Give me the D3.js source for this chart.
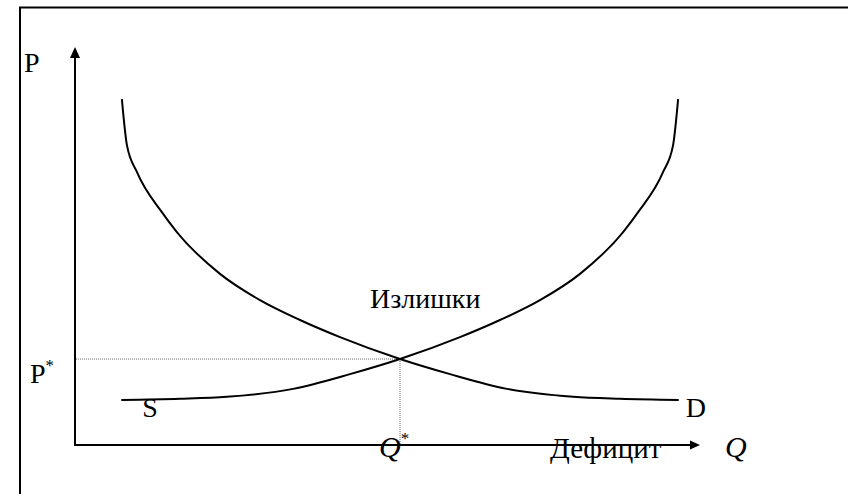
<!DOCTYPE html>
<html>
<head>
<meta charset="utf-8">
<script src="https://cdn.jsdelivr.net/npm/d3@7"></script>
<style>
  html, body { margin:0; padding:0; background:#fff; }
  svg { display:block; }
  text { font-family:'Liberation Serif','Times New Roman',serif; fill:#000; }
</style>
</head>
<body>
<svg id="chart" width="848" height="494"></svg>
<script>
/* ---------- data (Q, P in axis units 0..100) ---------- */
const supplyQ = [7.4, 16.8, 24.3, 34.9, 44.0, 52.0, 61.6, 68.0, 74.4, 80.8, 87.7, 90.1, 94.1, 95.7, 96.5];
const supplyP = [11.3, 11.6, 12.1, 14.1, 17.8, 21.6, 27.1, 31.4, 36.4, 43.0, 53.5, 58.5, 68.6, 75.4, 86.9];
const demandQ = [7.5, 8.3, 9.9, 13.9, 16.3, 23.2, 29.6, 36.0, 42.4, 52.0, 60.0, 69.1, 79.7, 87.2, 96.6];
const demandP = [86.9, 75.4, 68.6, 58.5, 53.5, 43.0, 36.4, 31.4, 27.1, 21.6, 17.8, 14.1, 12.1, 11.6, 11.3];
const equilibrium = { q:52.0, p:21.6 };
const curveLabels = ['S', 'D'];
const axisLabels = { p:'P', q:'Q', pStar:'P', qStar:'Q', star:'*' };
const zoneLabels = { surplus:'Излишки', deficit:'Дефицит' };

/* ---------- layout ---------- */
const svg = d3.select('#chart');
const x = d3.scaleLinear().domain([0,100]).range([75,700]);
const y = d3.scaleLinear().domain([0,100]).range([445,47]);

// frame (left + top edges only)
svg.append('path').attr('d','M20,494 L20,7.5 L848,7.5')
  .attr('fill','none').attr('stroke','#000').attr('stroke-width',2);

// axes
const x0 = x(0), y0 = y(0), xEnd = x(100), yEnd = y(100);
svg.append('line').attr('x1',x0).attr('y1',y0).attr('x2',xEnd-8).attr('y2',y0)
  .attr('stroke','#000').attr('stroke-width',2);
svg.append('line').attr('x1',x0).attr('y1',y0+1).attr('x2',x0).attr('y2',yEnd+8)
  .attr('stroke','#000').attr('stroke-width',2);
svg.append('path').attr('d',`M${xEnd},${y0} L${xEnd-10},${y0-4.5} L${xEnd-10},${y0+4.5}Z`).attr('fill','#000');
svg.append('path').attr('d',`M${x0},${yEnd} L${x0-5},${yEnd+11} L${x0+5},${yEnd+11}Z`).attr('fill','#000');

// dotted guides to equilibrium
const ex = x(equilibrium.q), ey = y(equilibrium.p);
svg.append('path').attr('d',`M${x0+1},${ey} H${ex} V${y0-1}`)
  .attr('fill','none').attr('stroke','#666').attr('stroke-width',1).attr('stroke-dasharray','1,1');

// curves
const line = d3.line().x(d => x(d[0])).y(d => y(d[1])).curve(d3.curveMonotoneX);
const supply = d3.zip(supplyQ, supplyP);
const demand = d3.zip(demandQ, demandP);
svg.selectAll('.curve').data([supply, demand]).enter().append('path')
  .attr('class','curve').attr('d', line)
  .attr('fill','none').attr('stroke','#000').attr('stroke-width',2);

// labels
const fs = 28;
svg.append('text').attr('x',24).attr('y',72).style('font-size',fs+'px').text(axisLabels.p);
const ps = svg.append('text').attr('x',30).attr('y',ey+24).style('font-size',fs+'px');
ps.append('tspan').text(axisLabels.pStar);
ps.append('tspan').attr('dy',-12).style('font-size','17px').text(axisLabels.star);

svg.append('text').attr('x',x(supplyQ[0])+21).attr('y',417).style('font-size',fs+'px').text(curveLabels[0]);
svg.append('text').attr('x',x(demandQ[demandQ.length-1])+7).attr('y',417).style('font-size',fs+'px').text(curveLabels[1]);

const qs = svg.append('text').attr('x',ex-21).attr('y',457).style('font-size',(fs+2)+'px').style('font-style','italic');
qs.append('tspan').text(axisLabels.qStar);
qs.append('tspan').attr('dy',-13).style('font-size','17px').style('font-style','normal').text(axisLabels.star);

svg.append('text').attr('x',xEnd+25).attr('y',457).style('font-size',(fs+2)+'px').style('font-style','italic').text(axisLabels.q);

svg.append('text').attr('x',550).attr('y',458).style('font-size',(fs+1)+'px').text(zoneLabels.deficit);
svg.append('text').attr('x',370).attr('y',308).style('font-size',fs+'px').text(zoneLabels.surplus);
</script>
</body>
</html>
